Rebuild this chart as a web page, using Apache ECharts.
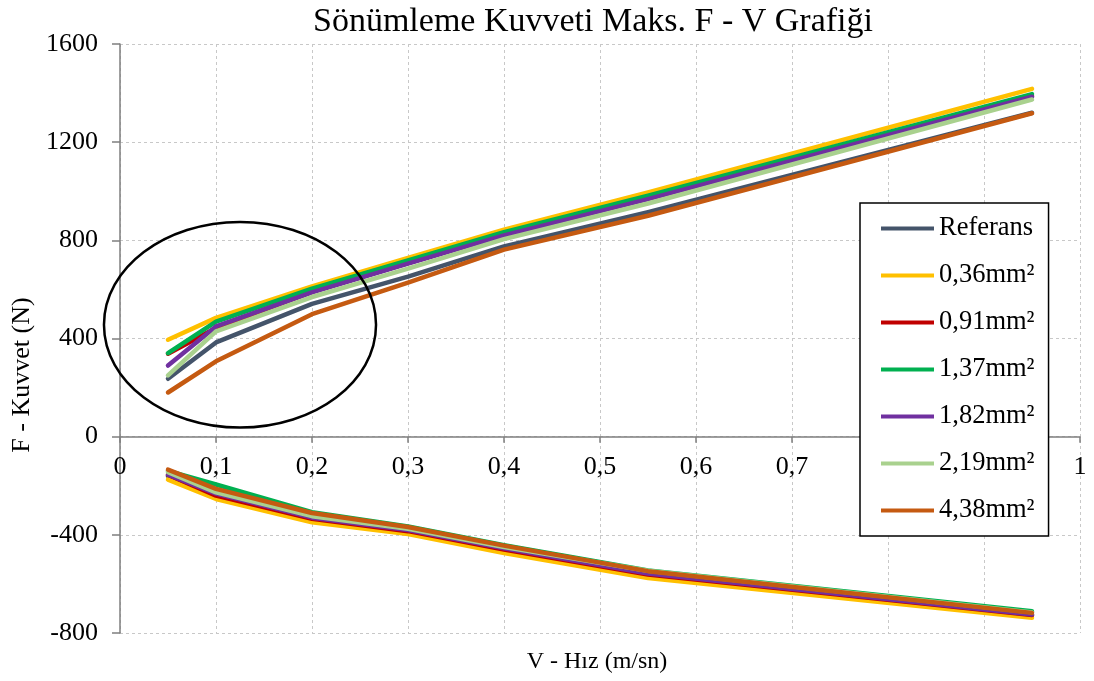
<!DOCTYPE html>
<html>
<head>
<meta charset="utf-8">
<script src="https://cdn.jsdelivr.net/npm/echarts@6/dist/echarts.min.js"></script>
<style>
  html, body { margin: 0; padding: 0; background: #fff; }
  #chart { width: 1094px; height: 681px; }
</style>
</head>
<body>
<div id="chart"></div>
<script>
// Test velocities (m/sn)
const velocity = [0.05, 0.1, 0.2, 0.3, 0.4, 0.55, 0.95];

// Maximum damping force (N): rebound (positive) and compression (negative)
const referansUp   = [236, 384, 541, 652, 775, 915, 1320];
const referansDown = [-161, -236, -333, -385, -458, -560, -727];
const a036Up   = [395, 484, 612, 728, 843, 995, 1417];
const a036Down = [-175, -254, -349, -397, -474, -576, -738];
const a091Up   = [338, 443, 590, 707, 822, 970, 1388];
const a091Down = [-155, -240, -335, -385, -460, -562, -727];
const a137Up   = [340, 469, 603, 718, 833, 982, 1396];
const a137Down = [-140, -195, -308, -366, -442, -545, -711];
const a182Up   = [290, 449, 588, 705, 820, 968, 1385];
const a182Down = [-155, -232, -330, -380, -455, -558, -725];
const a219Up   = [250, 429, 569, 685, 805, 950, 1374];
const a219Down = [-145, -227, -324, -375, -450, -546, -716];
const a438Up   = [180, 307, 499, 628, 762, 900, 1318];
const a438Down = [-134, -213, -311, -368, -444, -548, -718];

const seriesNames = ['Referans', '0,36mm²', '0,91mm²', '1,37mm²', '1,82mm²', '2,19mm²', '4,38mm²'];
const seriesColors = ['#44546A', '#FFC000', '#C00000', '#00B050', '#7030A0', '#A9D18E', '#C55A11'];
const upValues = [referansUp, a036Up, a091Up, a137Up, a182Up, a219Up, a438Up];
const downValues = [referansDown, a036Down, a091Down, a137Down, a182Down, a219Down, a438Down];

const titleText = 'Sönümleme Kuvveti Maks. F - V Grafiği';
const xName = 'V - Hız (m/sn)';
const yName = 'F - Kuvvet (N)';

// Region highlighted by the ellipse (data units)
const ellipseCenter = [0.125, 456];
const ellipseRadius = [0.1417, 419];

const FONT = '"Liberation Serif", "Times New Roman", serif';

const pairs = (vals) => velocity.map((v, i) => [v, vals[i]]);

const series = [];
seriesNames.forEach((name, i) => {
  [upValues[i], downValues[i]].forEach((vals) => {
    series.push({
      name: name,
      type: 'line',
      data: pairs(vals),
      symbol: 'none',
      color: seriesColors[i],
      lineStyle: { width: 4.5, color: seriesColors[i], cap: 'round', join: 'round' },
      animation: false
    });
  });
});

const chart = echarts.init(document.getElementById('chart'), null, { renderer: 'canvas' });

chart.setOption({
  backgroundColor: '#ffffff',
  animation: false,
  title: {
    text: titleText,
    left: 588,
    textAlign: 'center',
    top: 0,
    textStyle: { fontFamily: FONT, fontSize: 34, fontWeight: 'normal', color: '#000' }
  },
  grid: { left: 120, right: 14, top: 44, bottom: 48, containLabel: false },
  legend: {
    orient: 'vertical',
    left: 860,
    top: 203,
    data: seriesNames,
    icon: 'rect',
    itemWidth: 53,
    itemHeight: 4,
    itemGap: 20,
    padding: [12, 14, 12, 21],
    backgroundColor: '#ffffff',
    borderColor: '#000000',
    borderWidth: 1.5,
    borderRadius: 0,
    textStyle: { fontFamily: FONT, fontSize: 26.5, color: '#000', lineHeight: 24 }
  },
  xAxis: {
    type: 'value',
    min: 0,
    max: 1,
    interval: 0.1,
    axisLine: { onZero: false, lineStyle: { color: '#7f7f7f', width: 1.5 } },
    axisTick: { show: true, length: 6, lineStyle: { color: '#7f7f7f', width: 1.5 } },
    axisLabel: {
      margin: 18,
      fontFamily: FONT, fontSize: 26, color: '#000',
      formatter: (v) => String(Math.round(v * 10) / 10).replace('.', ',')
    },
    splitLine: { show: true, lineStyle: { color: '#c8c8c8', type: [3, 3], width: 1 } }
  },
  yAxis: {
    type: 'value',
    min: -800,
    max: 1600,
    interval: 400,
    axisLine: { show: true, lineStyle: { color: '#7f7f7f', width: 1.5 } },
    axisTick: { show: true, length: 8, lineStyle: { color: '#7f7f7f', width: 1.5 } },
    axisLabel: { margin: 22, fontFamily: FONT, fontSize: 26, color: '#000', formatter: (v) => String(v) },
    splitLine: { show: true, lineStyle: { color: '#c8c8c8', type: [3, 3], width: 1 } }
  },
  series: series
});

// Move the velocity axis up to the zero force line, then place the annotation
const zeroPx = chart.convertToPixel({ gridIndex: 0 }, [0, 0]);
const bottomLeft = chart.convertToPixel({ gridIndex: 0 }, [0, -800]);
const topRight = chart.convertToPixel({ gridIndex: 0 }, [1, 1600]);

const c = chart.convertToPixel({ gridIndex: 0 }, ellipseCenter);
const edgeX = chart.convertToPixel({ gridIndex: 0 }, [ellipseCenter[0] + ellipseRadius[0], ellipseCenter[1]]);
const edgeY = chart.convertToPixel({ gridIndex: 0 }, [ellipseCenter[0], ellipseCenter[1] + ellipseRadius[1]]);

chart.setOption({
  xAxis: { offset: zeroPx[1] - bottomLeft[1] },
  graphic: [
    {
      type: 'ellipse',
      shape: { cx: c[0], cy: c[1], rx: edgeX[0] - c[0], ry: c[1] - edgeY[1] },
      style: { fill: 'none', stroke: '#000', lineWidth: 2.5 },
      z: 100
    },
    {
      type: 'text',
      x: (bottomLeft[0] + topRight[0]) / 2 - 3,
      y: 662,
      style: { text: xName, font: '24px ' + FONT, fill: '#000', textAlign: 'center', textVerticalAlign: 'middle' },
      z: 100
    },
    {
      type: 'text',
      x: 22,
      y: 375,
      rotation: Math.PI / 2,
      style: { text: yName, font: '26px ' + FONT, fill: '#000', textAlign: 'center', textVerticalAlign: 'middle' },
      z: 100
    }
  ]
});
</script>
</body>
</html>
